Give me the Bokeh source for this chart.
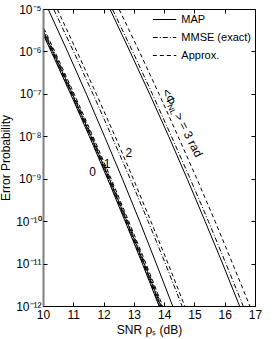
import math
from bokeh.plotting import figure
from bokeh.models import (LinearAxis, LogAxis, FixedTicker, CustomJSTickFormatter,
                          Legend, LegendItem, Label, Range1d)
from bokeh.embed import file_html
from bokeh.resources import INLINE

# ---------------- data ----------------
# error probability levels (decades) at which SNR values were read
prob = [1e-5, 1e-6, 1e-7, 1e-8, 1e-9, 1e-10, 1e-11, 1e-12]

# SNR (dB) for each curve, at the levels in `prob`
# <Phi_NL> = 0 rad
snr_map_0 = [9.60, 10.26, 10.90, 11.52, 12.12, 12.70, 13.27, 13.82]
snr_mmse_0 = [9.62, 10.28, 10.92, 11.54, 12.14, 12.72, 13.29, 13.84]
snr_appr_0 = [9.64, 10.30, 10.94, 11.56, 12.16, 12.74, 13.31, 13.86]
# <Phi_NL> = 1 rad
snr_map_1 = [9.66, 10.32, 10.96, 11.58, 12.18, 12.76, 13.33, 13.88]
snr_mmse_1 = [9.69, 10.35, 10.99, 11.61, 12.21, 12.79, 13.36, 13.91]
snr_appr_1 = [9.72, 10.38, 11.02, 11.64, 12.24, 12.82, 13.39, 13.94]
# <Phi_NL> = 2 rad
snr_map_2 = [10.16, 10.80, 11.42, 12.02, 12.61, 13.18, 13.73, 14.27]
snr_mmse_2 = [10.34, 11.00, 11.64, 12.26, 12.87, 13.46, 14.03, 14.58]
snr_appr_2 = [10.46, 11.11, 11.75, 12.37, 12.97, 13.55, 14.12, 14.67]
# <Phi_NL> = 3 rad
snr_map_3 = [12.20, 12.86, 13.51, 14.14, 14.75, 15.34, 15.92, 16.48]
snr_mmse_3 = [12.28, 12.95, 13.60, 14.23, 14.85, 15.45, 16.03, 16.60]
snr_appr_3 = [12.50, 13.17, 13.82, 14.45, 15.07, 15.67, 16.25, 16.82]

x_ticks = [10, 11, 12, 13, 14, 15, 16, 17]
y_ticks = [1e-12, 1e-11, 1e-10, 1e-9, 1e-8, 1e-7, 1e-6, 1e-5]
y_tick_labels = ["10\u207b\u00b9\u00b2", "10\u207b\u00b9\u00b9", "10\u207b\u00b9\u2070",
                 "10\u207b\u2079", "10\u207b\u2078", "10\u207b\u2077",
                 "10\u207b\u2076", "10\u207b\u2075"]

legend_labels = ["MAP", "MMSE (exact)", "Approx."]
phase_labels = ["0", "1", "2"]
phase_label_x = [11.62, 12.10, 12.82]
phase_label_y = [1.5e-9, 2.4e-9, 4.2e-9]

FONT = "Liberation Sans"

p = figure(width=267, height=339, output_backend="svg", toolbar_location=None,
           x_range=Range1d(10, 17), y_range=Range1d(1e-12, 1e-5), y_axis_type="log",
           min_border_left=4, min_border_right=8, min_border_top=9, min_border_bottom=4,
           styles={"margin-left": "-4px"})
p.grid.visible = False
p.outline_line_color = "black"
p.background_fill_color = "white"

styles = {"solid": dict(line_dash="solid"),
          "dashdot": dict(line_dash="5 2 1 2"),
          "dashed": dict(line_dash="4 3")}

curves = [
    (snr_map_0, "solid"), (snr_mmse_0, "dashdot"), (snr_appr_0, "dashed"),
    (snr_map_1, "solid"), (snr_mmse_1, "dashdot"), (snr_appr_1, "dashed"),
    (snr_map_2, "solid"), (snr_mmse_2, "dashdot"), (snr_appr_2, "dashed"),
    (snr_map_3, "solid"), (snr_mmse_3, "dashdot"), (snr_appr_3, "dashed"),
]
rend = {}
for xs, st in curves:
    r = p.line(xs, prob, line_color="black", line_width=1, **styles[st])
    rend.setdefault(st, r)

legend = Legend(items=[LegendItem(label=legend_labels[0], renderers=[rend["solid"]]),
                       LegendItem(label=legend_labels[1], renderers=[rend["dashdot"]]),
                       LegendItem(label=legend_labels[2], renderers=[rend["dashed"]])],
                location="top_right", border_line_alpha=0, background_fill_alpha=0,
                label_text_font=FONT, label_text_font_size="11px", label_text_color="black",
                glyph_width=24, glyph_height=12, spacing=6, padding=1, margin=3,
                label_standoff=5, label_height=12)
p.add_layout(legend)

def style_axis(ax, show_labels):
    ax.major_tick_in = 4
    ax.major_tick_out = 0
    ax.minor_tick_in = 0
    ax.minor_tick_out = 0
    ax.axis_line_color = "black"
    ax.major_tick_line_color = "black"
    ax.major_label_text_font = FONT
    ax.major_label_text_font_size = "12px" if show_labels else "1px"
    ax.major_label_text_color = "black"
    ax.major_label_text_alpha = 1.0 if show_labels else 0.0
    ax.major_label_standoff = 3 if show_labels else 0
    ax.axis_label_text_font = FONT
    ax.axis_label_text_font_size = "12px"
    ax.axis_label_text_font_style = "normal"
    ax.axis_label_text_color = "black"
    ax.axis_label_standoff = 1

xa = p.xaxis[0]
xa.ticker = FixedTicker(ticks=x_ticks)
xa.axis_label = "SNR \u03c1\u209b (dB)"
style_axis(xa, True)

ya = p.yaxis[0]
ya.ticker = FixedTicker(ticks=y_ticks)
ya.formatter = CustomJSTickFormatter(args=dict(tvals=y_ticks, tlabels=y_tick_labels), code="""
    let best = 0, bd = 1e9;
    for (let i = 0; i < tvals.length; i++) {
        const d = Math.abs(Math.log10(tvals[i]) - Math.log10(tick));
        if (d < bd) { bd = d; best = i; }
    }
    return tlabels[best];
""")
ya.axis_label = "Error Probability"
style_axis(ya, True)
ya.major_label_standoff = 2
ya.axis_label_standoff = 0
ya.axis_line_color = "#808080"
ya.axis_line_width = 2

top = LinearAxis(ticker=FixedTicker(ticks=x_ticks))
style_axis(top, False)
p.add_layout(top, "above")
right = LogAxis(ticker=FixedTicker(ticks=y_ticks))
style_axis(right, False)
p.add_layout(right, "right")

for t, lx, ly in zip(phase_labels, phase_label_x, phase_label_y):
    p.add_layout(Label(x=lx, y=ly, text=t, text_font=FONT, text_font_size="12px",
                       text_color="black", text_align="center", text_baseline="middle"))

# rotated annotation "<Phi_NL> = 3 rad"
theta = -math.radians(63)
dx, dy = math.cos(theta), math.sin(theta)
ux, uy = -math.sin(theta), math.cos(theta)
ax0, ay0 = 14.02, 1.3e-7
pieces = [("<\u03a6", 0.0, 0.0, "12px"), ("NL", 15.5, -3.5, "8px"), ("> = 3 rad", 27.0, 0.0, "12px")]
for txt, along, perp, fs in pieces:
    p.add_layout(Label(x=ax0, y=ay0, x_offset=along * dx + perp * ux,
                       y_offset=along * dy + perp * uy, text=txt, angle=theta,
                       text_font=FONT, text_font_size=fs, text_color="black",
                       text_baseline="alphabetic", text_align="left"))

open("out.html", "w").write(file_html(p, INLINE))
